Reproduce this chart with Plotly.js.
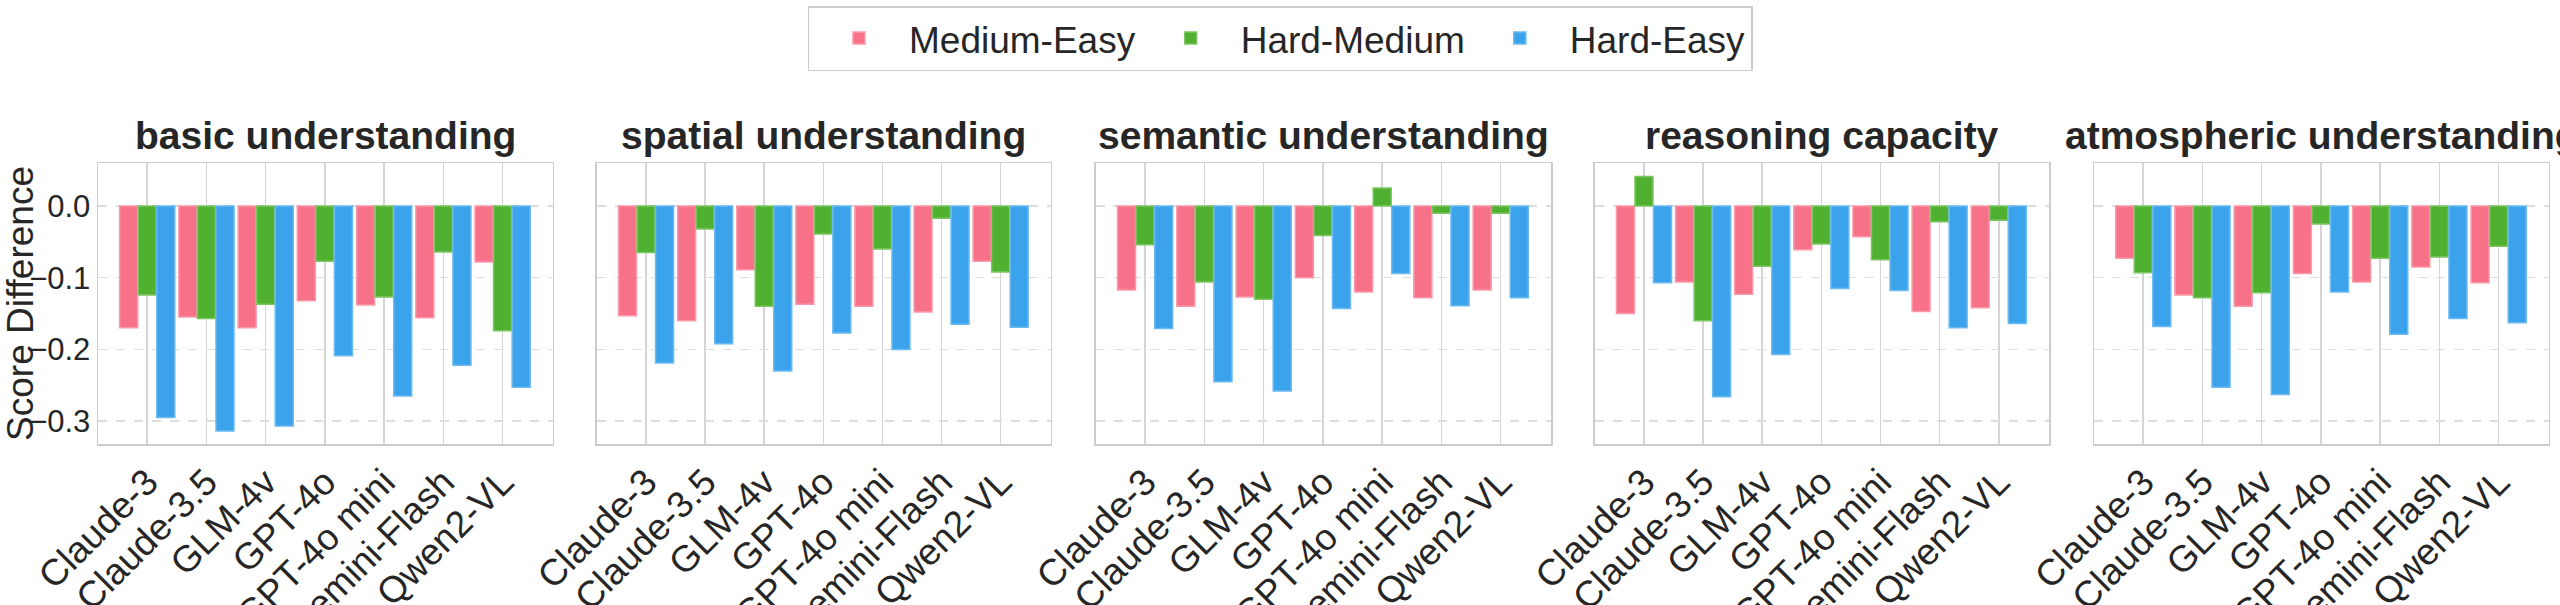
<!DOCTYPE html>
<html>
<head>
<meta charset="utf-8">
<script src="https://cdn.plot.ly/plotly-3.0.1.min.js"></script>
<style>
  html, body { margin: 0; padding: 0; background: #fff; }
  #chart { width: 2560px; height: 605px; }
</style>
</head>
<body>
<div id="chart"></div>
<script>
// ─── Data ─────────────────────────────────────────────────────────────────────
const models = ['Claude-3', 'Claude-3.5', 'GLM-4v', 'GPT-4o', 'GPT-4o mini', 'Gemini-Flash', 'Qwen2-VL'];
const panels = ['basic understanding', 'spatial understanding', 'semantic understanding',
                'reasoning capacity', 'atmospheric understanding'];
const seriesNames = ['Medium-Easy', 'Hard-Medium', 'Hard-Easy'];

// per panel: values in model order
const mediumEasy = [
    [-0.170, -0.155, -0.170, -0.132, -0.138, -0.156, -0.078],
    [-0.153, -0.160, -0.089, -0.137, -0.140, -0.148, -0.077],
    [-0.117, -0.140, -0.127, -0.100, -0.120, -0.128, -0.117],
    [-0.150, -0.106, -0.123, -0.061, -0.043, -0.147, -0.142],
    [-0.073, -0.124, -0.140, -0.094, -0.106, -0.085, -0.107],
];
const hardMedium = [
    [-0.124, -0.157, -0.137, -0.077, -0.127, -0.064, -0.174],
    [-0.065, -0.032, -0.140, -0.039, -0.060, -0.017, -0.092],
    [-0.054, -0.106, -0.130, -0.041, 0.025, -0.010, -0.010],
    [0.041, -0.160, -0.084, -0.053, -0.075, -0.022, -0.020],
    [-0.093, -0.128, -0.121, -0.025, -0.073, -0.071, -0.056],
];
const hardEasy = [
    [-0.295, -0.314, -0.307, -0.209, -0.265, -0.222, -0.253],
    [-0.219, -0.192, -0.230, -0.177, -0.200, -0.165, -0.169],
    [-0.171, -0.245, -0.258, -0.143, -0.094, -0.139, -0.128],
    [-0.107, -0.266, -0.207, -0.115, -0.118, -0.170, -0.164],
    [-0.168, -0.253, -0.263, -0.120, -0.179, -0.157, -0.163],
];

const seriesData = [mediumEasy, hardMedium, hardEasy];
const colors = ['#f77189', '#50b131', '#3ba3ec'];
const edges = ['#f99aab', '#7dc563', '#6bbaf1'];

// ─── Layout helpers ───────────────────────────────────────────────────────────
const domains = [[0.0383, 0.2160], [0.2332, 0.4105], [0.4281, 0.6059],
                 [0.6230, 0.8004], [0.8180, 0.9957]];
const FONT = 'Liberation Sans, Arial, sans-serif';

const traces = [];
panels.forEach((p, i) => {
    const ax = i === 0 ? '' : String(i + 1);
    seriesData.forEach((s, k) => {
        traces.push({
            type: 'bar',
            x: models, y: s[i],
            name: seriesNames[k],
            xaxis: 'x' + ax, yaxis: 'y' + ax,
            marker: { color: colors[k], line: { color: edges[k], width: 1.5 } },
            showlegend: i === 0,
            legendgroup: seriesNames[k],
        });
    });
});

const layout = {
    width: 2560, height: 605,
    paper_bgcolor: '#ffffff', plot_bgcolor: '#ffffff',
    font: { family: FONT, color: '#262626', size: 34 },
    margin: { l: 0, r: 0, t: 163, b: 161 },
    barmode: 'group', bargap: 0.06, bargroupgap: 0.03,
    showlegend: true,
    legend: {
        orientation: 'h', x: 0.5, xanchor: 'center', y: 0.99, yanchor: 'top',
        yref: 'container',
        bordercolor: '#cccccc', borderwidth: 1.5,
        font: { size: 37, color: '#262626' },
        itemwidth: 90, traceorder: 'normal',
    },
    annotations: [],
};

panels.forEach((p, i) => {
    const ax = i === 0 ? '' : String(i + 1);
    layout['xaxis' + ax] = {
        domain: domains[i], anchor: 'y' + ax,
        range: [-0.83, 6.85],
        tickangle: -45, tickfont: { size: 37, color: '#262626' },
        showgrid: true, gridcolor: '#d5d5d5', gridwidth: 1.5,
        showline: true, linecolor: '#cccccc', linewidth: 1.5, mirror: true,
        ticks: '', zeroline: false,
    };
    layout['yaxis' + ax] = {
        domain: [0, 1], anchor: 'x' + ax,
        range: [-0.332, 0.06],
        dtick: 0.1, tickformat: '.1f',
        showticklabels: i === 0,
        tickfont: { size: 31, color: '#262626' },
        showgrid: true, gridcolor: '#dddddd', gridwidth: 1.2, griddash: 'dash',
        showline: true, linecolor: '#cccccc', linewidth: 1.5, mirror: true,
        ticks: '', zeroline: false,
        title: i === 0 ? { text: 'Score Difference', font: { size: 37 }, standoff: 10 } : undefined,
    };
    layout.annotations.push({
        text: '<b>' + p + '</b>',
        xref: 'x' + ax + ' domain', yref: 'paper',
        x: 0.5, y: 1.0, xanchor: 'center', yanchor: 'bottom', yshift: 4,
        showarrow: false, font: { size: 39, color: '#262626' },
    });
});

Plotly.newPlot('chart', traces, layout, { displayModeBar: false, staticPlot: true });
</script>
</body>
</html>
